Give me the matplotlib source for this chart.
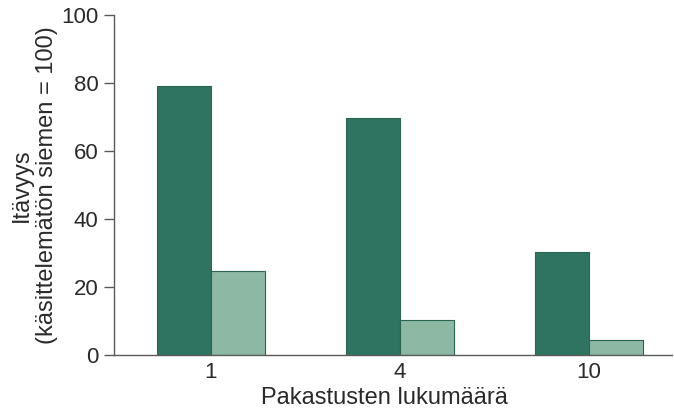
import matplotlib
matplotlib.use("Agg")
import matplotlib.pyplot as plt
import numpy as np

plt.rcParams['font.family'] = ['Liberation Sans', 'DejaVu Sans']

categories = ["1", "4", "10"]
dark_values = [79.1, 69.7, 30.3]
light_values = [24.8, 10.2, 4.5]

dark_color = "#2f7461"
light_color = "#8db8a4"
edge_color = "#2a6553"
axis_color = "#5a5a5a"
text_color = "#2a2a2a"

fig = plt.figure(figsize=(6.74, 4.17), dpi=100)
ax = fig.add_axes([0.169, 0.149, 0.828, 0.815])

x = np.arange(len(categories))
w = 0.286
ax.bar(x - w / 2, dark_values, width=w, color=dark_color, edgecolor=edge_color, linewidth=0.8)
ax.bar(x + w / 2, light_values, width=w, color=light_color, edgecolor=edge_color, linewidth=0.8)

ax.set_xlim(-0.513, 2.44)
ax.set_ylim(0, 100)
ax.set_yticks([0, 20, 40, 60, 80, 100])
ax.set_xticks(x)
ax.set_xticklabels(categories)

for s in ["top", "right"]:
    ax.spines[s].set_visible(False)
for s in ["left", "bottom"]:
    ax.spines[s].set_color(axis_color)
    ax.spines[s].set_linewidth(1.0)

ax.tick_params(axis='y', length=7, width=1.0, color=axis_color, labelsize=16, pad=4, labelcolor=text_color)
ax.tick_params(axis='x', length=0, labelsize=16, pad=5, labelcolor=text_color)

ax.set_xlabel("Pakastusten lukumäärä", fontsize=17, color=text_color)
ax.xaxis.set_label_coords(0.484, -0.094)
ax.set_ylabel("Itävyys\n(käsittelemätön siemen = 100)", fontsize=17, color=text_color,
              linespacing=1.2)
ax.yaxis.set_label_coords(-0.100, 0.5)

fig.savefig("out.png", dpi=100)
